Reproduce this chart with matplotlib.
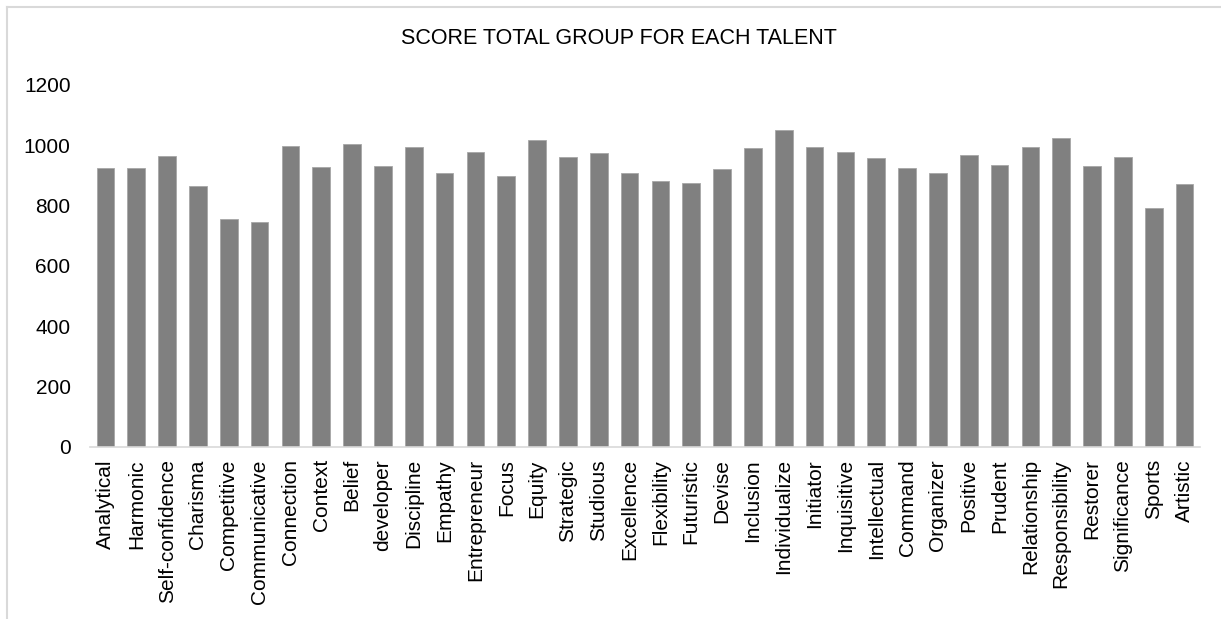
import matplotlib
matplotlib.use("Agg")
import matplotlib.pyplot as plt
from matplotlib.lines import Line2D

plt.rcParams['font.family'] = ['Liberation Sans', 'DejaVu Sans']

talents = [
    "Analytical", "Harmonic", "Self-confidence", "Charisma", "Competitive",
    "Communicative", "Connection", "Context", "Belief", "developer",
    "Discipline", "Empathy", "Entrepreneur", "Focus", "Equity", "Strategic",
    "Studious", "Excellence", "Flexibility", "Futuristic", "Devise",
    "Inclusion", "Individualize", "Initiator", "Inquisitive", "Intellectual",
    "Command", "Organizer", "Positive", "Prudent", "Relationship",
    "Responsibility", "Restorer", "Significance", "Sports", "Artistic",
]
scores = [
    925, 923, 963, 864, 754,
    746, 998, 926, 1003, 930,
    993, 906, 977, 898, 1017, 960,
    972, 907, 881, 874, 920,
    990, 1049, 993, 976, 958,
    924, 907, 966, 933, 993,
    1023, 930, 959, 791, 870,
]
y_ticks = [0, 200, 400, 600, 800, 1000, 1200]
title = "SCORE TOTAL GROUP FOR EACH TALENT"

W, H = 1221, 619
fig = plt.figure(figsize=(W / 100, H / 100), dpi=100)
fig.patch.set_facecolor("white")

ax = fig.add_axes([90 / W, 1 - 446.7 / H, 1110 / W, 362 / H])
x = list(range(len(talents)))
ax.bar(x, scores, width=0.57, color="#808080", edgecolor="#a6a6a6",
       linewidth=0.6, zorder=2)

ax.set_xlim(-0.5, len(talents) - 0.5)
ax.set_ylim(0, 1200)
ax.set_yticks(y_ticks)
ax.set_yticklabels([str(v) for v in y_ticks])
ax.set_xticks(x)
ax.set_xticklabels(talents, rotation=90)

for side in ("top", "right", "left"):
    ax.spines[side].set_visible(False)
ax.spines["bottom"].set_color("#d9d9d9")
ax.spines["bottom"].set_linewidth(1.2)
ax.tick_params(axis="both", length=0, labelsize=15, colors="black")
ax.tick_params(axis="x", pad=9)
ax.tick_params(axis="y", pad=14)

fig.text(618.5 / W, 1 - 39 / H, title, ha="center", va="center",
         fontsize=15.5, color="black")

# chart-area border along the top and left edges
fig.add_artist(Line2D([7 / W, 1], [1 - 7 / H, 1 - 7 / H],
                      transform=fig.transFigure, color="#d9d9d9", lw=1.5))
fig.add_artist(Line2D([7 / W, 7 / W], [0, 1 - 7 / H],
                      transform=fig.transFigure, color="#d9d9d9", lw=1.5))

fig.savefig("out.png", dpi=100, facecolor="white")
